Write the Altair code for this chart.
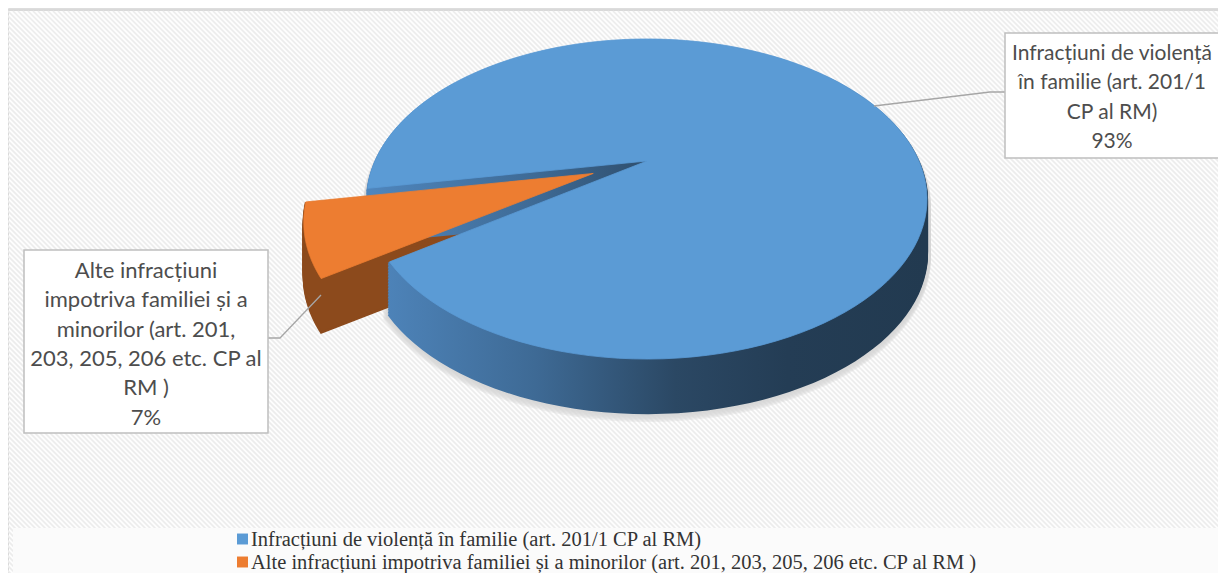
import altair as alt
import pandas as pd

# ---------------- data ----------------
categories = [
    "Infracțiuni de violență în familie (art. 201/1 CP al RM)",
    "Alte infracțiuni impotriva familiei și a minorilor (art. 201, 203, 205, 206 etc. CP al RM )",
]
values = [93, 7]
box_lines = [
    ["Infracțiuni de violență", "în familie (art. 201/1", "CP al RM)", "93%"],
    ["Alte infracțiuni", "impotriva familiei și a", "minorilor (art. 201,",
     "203, 205, 206 etc. CP al", "RM )", "7%"],
]
top_colors = ["#5b9bd5", "#ed7d31"]
explode = [0.0, 0.21]

# ---------------- layout / style ----------------
W, H = 1210, 565
CX, CY = 639, 153          # projected pie centre (px)
A, B, K = 272, 151, 0.2375  # perspective ellipse parameters
DEPTH = 54
ROT = 260                  # first slice starts here (deg clockwise from top)
N = 140                    # rim segments
L = 36                     # extrusion layers
FONT = "Lato"

pie_df = pd.DataFrame({"key": ["a", "b"], "cat": categories, "value": values,
                       "ord": [0, 1], "explode": explode})

def pie_geom():
    return (
        alt.Chart(pie_df)
        .transform_joinaggregate(total="sum(value)")
        .transform_window(cum="sum(value)", sort=[alt.SortField("ord")], frame=[None, 0])
        .transform_calculate(
            a0=f"{ROT} + 360*(datum.cum - datum.value)/datum.total",
            a1=f"{ROT} + 360*datum.cum/datum.total",
            steps=f"sequence(0, {N + 2})",
        )
        .transform_flatten(["steps"], as_=["step"])
        .transform_calculate(
            ang=f"(datum.a0 + (datum.a1 - datum.a0)*(datum.step-1)/{N})*PI/180",
            am="((datum.a0 + datum.a1)/2)*PI/180",
            r="datum.step == 0 ? 0 : 1",
        )
        .transform_calculate(
            u="datum.r*sin(datum.ang) + datum.explode*sin(datum.am)",
            w="datum.r*cos(datum.ang) + datum.explode*cos(datum.am)",
        )
        .transform_calculate(
            dd=f"1 + {K}*datum.w",
        )
        .transform_calculate(
            px=f"{CX} + {A}*datum.u/datum.dd",
            py0=f"{CY} - {B}*datum.w/datum.dd",
        )
    )

def enc(ch):
    return ch.encode(
        x=alt.X("px:Q", scale=None, axis=None),
        y=alt.Y("py:Q", scale=None, axis=None),
        order=alt.Order("step:Q"),
        detail=alt.Detail("grp:N"),
    )

def stack(key, fill, extra=0.0, lw=2.2, opacity=1.0):
    ch = (
        pie_geom()
        .transform_filter(f"datum.key == '{key}'")
        .transform_calculate(levs=f"sequence(1, {L + 1})")
        .transform_flatten(["levs"], as_=["lev"])
        .transform_calculate(
            py=f"datum.py0 + datum.lev/{L}*{DEPTH} + {extra}",
            grp="datum.key + '_' + datum.lev",
        )
        .mark_line(interpolate="linear-closed", fill=fill, stroke=fill,
                   strokeWidth=lw, opacity=opacity)
    )
    return enc(ch)

def top(key, color):
    ch = (
        pie_geom()
        .transform_filter(f"datum.key == '{key}'")
        .transform_calculate(py="datum.py0", grp="datum.key")
        .mark_line(interpolate="linear-closed", fill=color, stroke=color, strokeWidth=0.8)
    )
    return enc(ch)

blue_side = alt.Gradient(
    gradient="linear", x1=0, x2=1, y1=0, y2=0,
    stops=[alt.GradientStop(color="#4f86bd", offset=0),
           alt.GradientStop(color="#3e6a95", offset=0.3),
           alt.GradientStop(color="#2b4864", offset=0.55),
           alt.GradientStop(color="#243d55", offset=0.75),
           alt.GradientStop(color="#223a50", offset=1)],
)
orange_side = "#8c4a1c"

# ---------------- background ----------------
bg_rect = alt.Chart(pd.DataFrame({"z": [0]})).mark_rect(
    fill="#fdfdfd", stroke="#d9d9d9", strokeWidth=2, clip=True).encode(
    x=alt.value(0), x2=alt.value(W + 4), y=alt.value(2), y2=alt.value(H + 4))

hatch = (
    alt.Chart(alt.sequence(start=-600, stop=W + 10, step=5, as_="h"))
    .transform_calculate(hx2="datum.h + 600", hy="3", hy2="603")
    .mark_rule(stroke="#ececec", strokeWidth=1.6, clip=True)
    .encode(x=alt.X("h:Q", scale=None, axis=None), x2="hx2:Q",
            y=alt.Y("hy:Q", scale=None, axis=None), y2="hy2:Q")
)

legend_bg = alt.Chart(pd.DataFrame({"z": [0]})).mark_rect(fill="#fbfbfb", clip=True).encode(
    x=alt.value(5), x2=alt.value(W), y=alt.value(520), y2=alt.value(H))

shadow = stack("a", "#d6d6d6", extra=5, lw=8, opacity=0.35)

# ---------------- label boxes ----------------
boxes = pd.DataFrame({
    "x": [997, 16], "x2": [W + 4, 260], "y": [25, 242], "y2": [150, 425]})
box_marks = alt.Chart(boxes).mark_rect(fill="white", stroke="#bfbfbf", strokeWidth=1.5, clip=True).encode(
    x=alt.X("x:Q", scale=None, axis=None), x2="x2:Q",
    y=alt.Y("y:Q", scale=None, axis=None), y2="y2:Q")

text_rows = []
box_cx = [1104, 138]
box_y0 = [46, 263]
box_dy = [29.3, 29.3]
box_fs = [21, 22]
for bi, lines in enumerate(box_lines):
    for li, t in enumerate(lines):
        text_rows.append({"t": t, "x": box_cx[bi], "y": box_y0[bi] + li * box_dy[bi],
                          "fs": box_fs[bi]})
box_text = alt.Chart(pd.DataFrame(text_rows)).mark_text(
    font=FONT, color="#4d4d4d", align="center", baseline="middle"
).encode(x=alt.X("x:Q", scale=None, axis=None), y=alt.Y("y:Q", scale=None, axis=None),
         text="t:N", size=alt.Size("fs:Q", scale=None, legend=None))

leaders = pd.DataFrame({
    "g": ["r", "r", "r", "l", "l", "l"],
    "o": [0, 1, 2, 0, 1, 2],
    "x": [866, 982, 997, 313, 272, 260],
    "y": [98, 84, 84, 287, 330, 330],
})
leader_marks = alt.Chart(leaders).mark_line(stroke="#a6a6a6", strokeWidth=1.3).encode(
    x=alt.X("x:Q", scale=None, axis=None), y=alt.Y("y:Q", scale=None, axis=None),
    order="o:Q", detail="g:N")

# ---------------- legend ----------------
leg = pd.DataFrame({"cat": categories, "color": top_colors,
                    "y": [531, 554]})
leg_sq = alt.Chart(leg).mark_square(size=120, opacity=1).encode(
    x=alt.value(234.5), y=alt.Y("y:Q", scale=None, axis=None),
    color=alt.Color("color:N", scale=None))
leg_tx = alt.Chart(leg).mark_text(font="Liberation Serif", fontSize=20.5, color="#333333",
                                  align="left", baseline="middle", dy=1).encode(
    x=alt.value(243), y=alt.Y("y:Q", scale=None, axis=None), text="cat:N")

chart = alt.layer(
    bg_rect, hatch, legend_bg,
    shadow,
    stack("b", orange_side),
    stack("a", blue_side),
    top("b", top_colors[1]),
    top("a", top_colors[0]),
    leader_marks, box_marks, box_text,
    leg_sq, leg_tx,
).properties(width=W, height=H, autosize=alt.AutoSizeParams(type="none"), padding=0
).configure_view(stroke=None).configure(background="white")

chart.save("out.html", embed_options={"renderer": "svg", "actions": False})
